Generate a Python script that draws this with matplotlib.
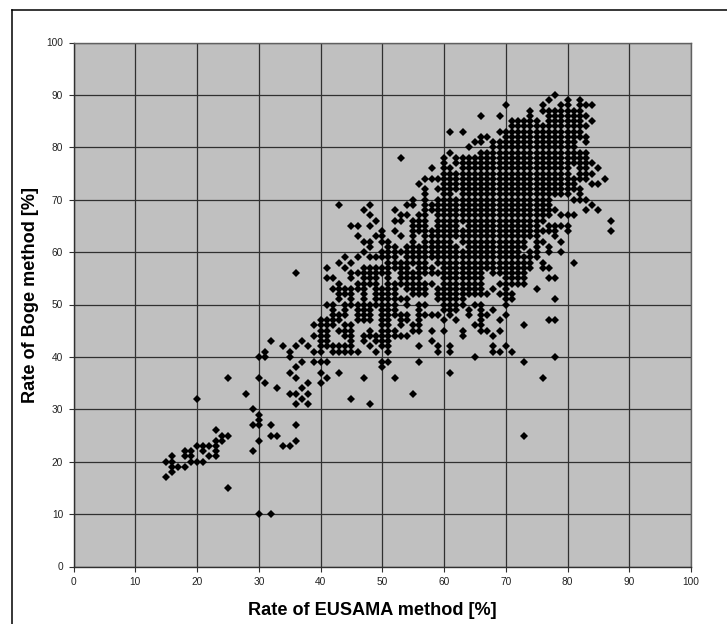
import matplotlib
matplotlib.use('Agg')
import matplotlib.pyplot as plt
from matplotlib.lines import Line2D

plt.rcParams['font.family'] = ['Liberation Sans', 'DejaVu Sans']

# x values, one list per rate on the y axis
r90 = [78]
r89 = [77, 80, 82]
r88 = [70, 76, 79, 80, 82, 83, 84]
r87 = [74, 76, 77, 78, 79, 80, 81, 82]
r86 = [66, 69, 74, 77, 78, 79, 80, 81, 82, 83]
r85 = [71, 72, 73, 74, 75, 77, 78, 79, 80, 81, 82, 84]
r84 = [71, 72, 73, 74, 75, 76, 77, 78, 79, 80, 81, 82, 83]
r83 = [61, 63, 69, 70, 71, 72, 73, 74, 75, 76, 77, 78, 79, 80, 81, 82]
r82 = [66, 67, 70, 71, 72, 73, 74, 75, 76, 77, 78, 79, 80, 81, 82, 83]
r81 = [65, 66, 68, 69, 70, 71, 72, 73, 74, 75, 76, 77, 78, 79, 80, 81, 83]
r80 = [64, 68, 69, 70, 71, 72, 73, 74, 75, 76, 77, 78, 79, 80, 81]
r79 = [61, 66, 67, 68, 69, 70, 71, 72, 73, 74, 75, 76, 77, 78, 79, 80, 81, 82, 83]
r78 = [53, 60, 62, 63, 64, 65, 66, 67, 68, 69, 70, 71, 72, 73, 74, 75, 76, 77, 78, 79, 80, 81, 82, 83]
r77 = [60, 62, 63, 64, 65, 66, 67, 68, 69, 70, 71, 72, 73, 74, 75, 76, 77, 78, 79, 80, 81, 82, 83, 84]
r76 = [58, 60, 61, 63, 64, 65, 66, 67, 68, 69, 70, 71, 72, 73, 74, 75, 76, 77, 78, 79, 80, 82, 83, 85]
r75 = [60, 61, 62, 63, 64, 65, 66, 67, 68, 69, 70, 71, 72, 73, 74, 75, 76, 77, 78, 79, 80, 82, 83, 84]
r74 = [57, 58, 59, 60, 61, 62, 63, 64, 65, 66, 67, 68, 69, 70, 71, 72, 73, 74, 75, 76, 77, 78, 79, 80, 81, 82, 83, 86]
r73 = [56, 60, 61, 62, 63, 64, 65, 66, 67, 68, 69, 70, 71, 72, 73, 74, 75, 76, 77, 78, 79, 80, 81, 84, 85]
r72 = [57, 59, 60, 61, 62, 63, 64, 65, 66, 67, 68, 69, 70, 71, 72, 73, 74, 75, 76, 77, 78, 79, 80, 81, 82]
r71 = [57, 60, 61, 63, 64, 65, 66, 67, 68, 69, 70, 71, 72, 73, 74, 75, 76, 77, 78, 79, 80, 82]
r70 = [55, 57, 59, 60, 61, 62, 63, 64, 65, 66, 67, 68, 69, 70, 71, 72, 73, 74, 75, 76, 77, 81, 82, 83]
r69 = [43, 48, 54, 55, 57, 58, 59, 60, 61, 62, 63, 64, 65, 66, 67, 68, 69, 70, 71, 72, 73, 74, 75, 76, 77, 84]
r68 = [47, 52, 57, 58, 59, 60, 61, 62, 63, 64, 65, 66, 67, 68, 69, 70, 71, 72, 73, 74, 75, 76, 77, 78, 83, 85]
r67 = [48, 53, 54, 56, 57, 59, 60, 61, 62, 63, 64, 65, 66, 67, 68, 69, 70, 71, 72, 73, 74, 75, 76, 77, 79, 80, 81]
r66 = [49, 52, 53, 55, 56, 57, 59, 60, 61, 62, 63, 64, 65, 66, 67, 68, 69, 70, 71, 72, 73, 74, 75, 76, 87]
r65 = [45, 46, 48, 55, 56, 57, 59, 60, 61, 62, 64, 65, 66, 67, 68, 69, 70, 71, 72, 73, 74, 75, 77, 78, 79, 80]
r64 = [50, 52, 55, 56, 57, 58, 59, 60, 61, 62, 63, 64, 65, 66, 67, 68, 69, 70, 71, 72, 73, 74, 75, 76, 77, 78, 80, 87]
r63 = [46, 49, 50, 53, 55, 57, 58, 59, 60, 61, 62, 63, 64, 65, 66, 67, 68, 69, 70, 71, 72, 73, 74, 75, 78]
r62 = [47, 48, 50, 51, 55, 57, 58, 59, 60, 61, 63, 64, 65, 66, 67, 68, 69, 70, 71, 72, 73, 75, 76, 79]
r61 = [48, 51, 52, 54, 55, 56, 57, 58, 59, 60, 61, 62, 64, 65, 66, 67, 68, 69, 70, 71, 72, 73, 75, 77]
r60 = [47, 50, 51, 52, 53, 54, 55, 56, 57, 58, 59, 60, 61, 62, 63, 64, 65, 66, 67, 68, 69, 70, 71, 72, 74, 75, 77, 79]
r59 = [44, 46, 48, 49, 50, 51, 52, 54, 55, 56, 57, 58, 59, 60, 61, 62, 63, 64, 65, 66, 67, 68, 69, 70, 71, 72, 73, 74, 75]
r58 = [43, 45, 51, 52, 53, 54, 55, 56, 57, 59, 60, 61, 62, 63, 64, 65, 66, 67, 68, 69, 70, 71, 72, 73, 74, 76, 81]
r57 = [41, 44, 47, 48, 49, 50, 51, 52, 53, 54, 56, 57, 58, 60, 61, 62, 63, 64, 65, 66, 67, 68, 69, 70, 71, 72, 73, 74, 76, 77]
r56 = [36, 45, 46, 47, 48, 49, 50, 51, 53, 54, 55, 56, 57, 58, 59, 60, 61, 62, 63, 64, 65, 66, 68, 69, 70, 71, 72, 73]
r55 = [41, 42, 45, 47, 48, 49, 51, 53, 54, 55, 56, 60, 61, 62, 63, 64, 65, 66, 70, 71, 72, 73, 77, 78]
r54 = [43, 46, 47, 48, 49, 51, 52, 53, 54, 55, 56, 57, 58, 60, 61, 62, 63, 64, 65, 66, 69, 70, 71, 72, 73]
r53 = [42, 43, 44, 45, 46, 47, 49, 50, 51, 52, 54, 55, 56, 57, 59, 60, 61, 62, 63, 64, 65, 66, 68, 70, 75]
r52 = [43, 44, 45, 47, 49, 50, 51, 52, 55, 56, 57, 59, 60, 61, 62, 63, 64, 65, 66, 67, 69, 70, 71]
r51 = [43, 45, 47, 49, 50, 51, 52, 53, 54, 59, 60, 61, 62, 63, 70, 71, 78]
r50 = [41, 42, 44, 45, 46, 47, 48, 49, 50, 51, 52, 54, 56, 57, 60, 61, 62, 63, 65, 66, 70]
r49 = [42, 44, 46, 47, 48, 50, 51, 52, 56, 60, 61, 62, 64, 66, 68]
r48 = [42, 43, 44, 46, 47, 48, 50, 51, 52, 53, 54, 56, 57, 58, 59, 61, 64, 66, 67, 70]
r47 = [40, 41, 42, 43, 46, 47, 48, 50, 51, 53, 54, 56, 60, 62, 66, 69, 77, 78]
r46 = [39, 40, 41, 42, 44, 45, 50, 51, 53, 55, 56, 65, 66, 73]
r45 = [40, 41, 43, 44, 45, 48, 50, 51, 52, 55, 56, 58, 60, 63, 66, 67, 69]
r44 = [39, 40, 41, 44, 45, 47, 48, 49, 50, 51, 52, 53, 54, 63, 68]
r43 = [32, 37, 40, 41, 45, 47, 49, 50, 51, 58]
r42 = [34, 36, 38, 40, 41, 42, 43, 44, 45, 48, 50, 51, 56, 59, 61, 68, 70]
r41 = [31, 35, 39, 40, 42, 43, 44, 45, 46, 49, 51, 59, 61, 68, 69, 71]
r40 = [30, 31, 35, 65, 78]
r39 = [37, 39, 40, 41, 50, 51, 56, 73]
r38 = [36, 50]
r37 = [35, 40, 43, 61]
r36 = [25, 30, 36, 41, 47, 52, 76]
r35 = [31, 38, 40]
r34 = [33, 37]
r33 = [28, 35, 36, 38, 55]
r32 = [20, 37, 45]
r31 = [36, 38, 48]
r30 = [29]
r29 = [30]
r28 = [30]
r27 = [29, 30, 32, 36]
r26 = [23]
r25 = [24, 25, 32, 33, 73]
r24 = [23, 24, 30, 36]
r23 = [20, 21, 22, 23, 34, 35]
r22 = [18, 19, 21, 23, 29]
r21 = [16, 18, 19, 22, 23]
r20 = [15, 16, 19, 20, 21]
r19 = [16, 17, 18]
r18 = [16]
r17 = [15]
r15 = [25]
r10 = [30, 32]

rows_y = [90, 89, 88, 87, 86, 85, 84, 83, 82, 81, 80, 79, 78, 77, 76, 75, 74, 73, 72, 71,
          70, 69, 68, 67, 66, 65, 64, 63, 62, 61, 60, 59, 58, 57, 56, 55, 54, 53, 52, 51,
          50, 49, 48, 47, 46, 45, 44, 43, 42, 41, 40, 39, 38, 37, 36, 35, 34, 33, 32, 31,
          30, 29, 28, 27, 26, 25, 24, 23, 22, 21, 20, 19, 18, 17, 15, 10]
rows_x = [r90, r89, r88, r87, r86, r85, r84, r83, r82, r81, r80, r79, r78, r77, r76, r75, r74, r73, r72, r71,
          r70, r69, r68, r67, r66, r65, r64, r63, r62, r61, r60, r59, r58, r57, r56, r55, r54, r53, r52, r51,
          r50, r49, r48, r47, r46, r45, r44, r43, r42, r41, r40, r39, r38, r37, r36, r35, r34, r33, r32, r31,
          r30, r29, r28, r27, r26, r25, r24, r23, r22, r21, r20, r19, r18, r17, r15, r10]

ticks = [0, 10, 20, 30, 40, 50, 60, 70, 80, 90, 100]

xs = []
ys = []
for y, row in zip(rows_y, rows_x):
    xs += row
    ys += [y] * len(row)

W, H = 727, 624
fig = plt.figure(figsize=(W / 100, H / 100), dpi=100)
ax = fig.add_axes([73.5 / W, 1 - 566.5 / H, 617.5 / W, 524 / H])
ax.set_facecolor('#C0C0C0')

ax.plot(xs, ys, linestyle='none', marker='D', markersize=4.2, color='black',
        markeredgewidth=0, zorder=3, clip_on=False)

ax.set_xlim(0, 100)
ax.set_ylim(0, 100)
ax.set_xticks(ticks)
ax.set_yticks(ticks)
ax.grid(True, color='#303030', linewidth=0.9)
ax.set_axisbelow(True)
ax.tick_params(length=3.5, width=0.8, color='#303030', labelsize=7.3, labelcolor='#222222', pad=4)
for side in ax.spines:
    ax.spines[side].set_color('#606060')
    ax.spines[side].set_linewidth(1.0)
ax.spines['left'].set_color('#303030')
ax.spines['bottom'].set_color('#303030')

ax.set_xlabel('Rate of EUSAMA method [%]', fontsize=13.1, fontweight='bold', labelpad=11, x=0.484)
ax.set_ylabel('Rate of Boge method [%]', fontsize=13.1, fontweight='bold', labelpad=5, y=0.518)

# chart frame, cut off at the right and bottom of the picture
fig.add_artist(Line2D([11.5 / W, 11.5 / W], [0, 1 - 10 / H], color='black', linewidth=1.1))
fig.add_artist(Line2D([11.5 / W, 1], [1 - 10 / H, 1 - 10 / H], color='black', linewidth=1.1))

fig.savefig('out.png', dpi=100)
